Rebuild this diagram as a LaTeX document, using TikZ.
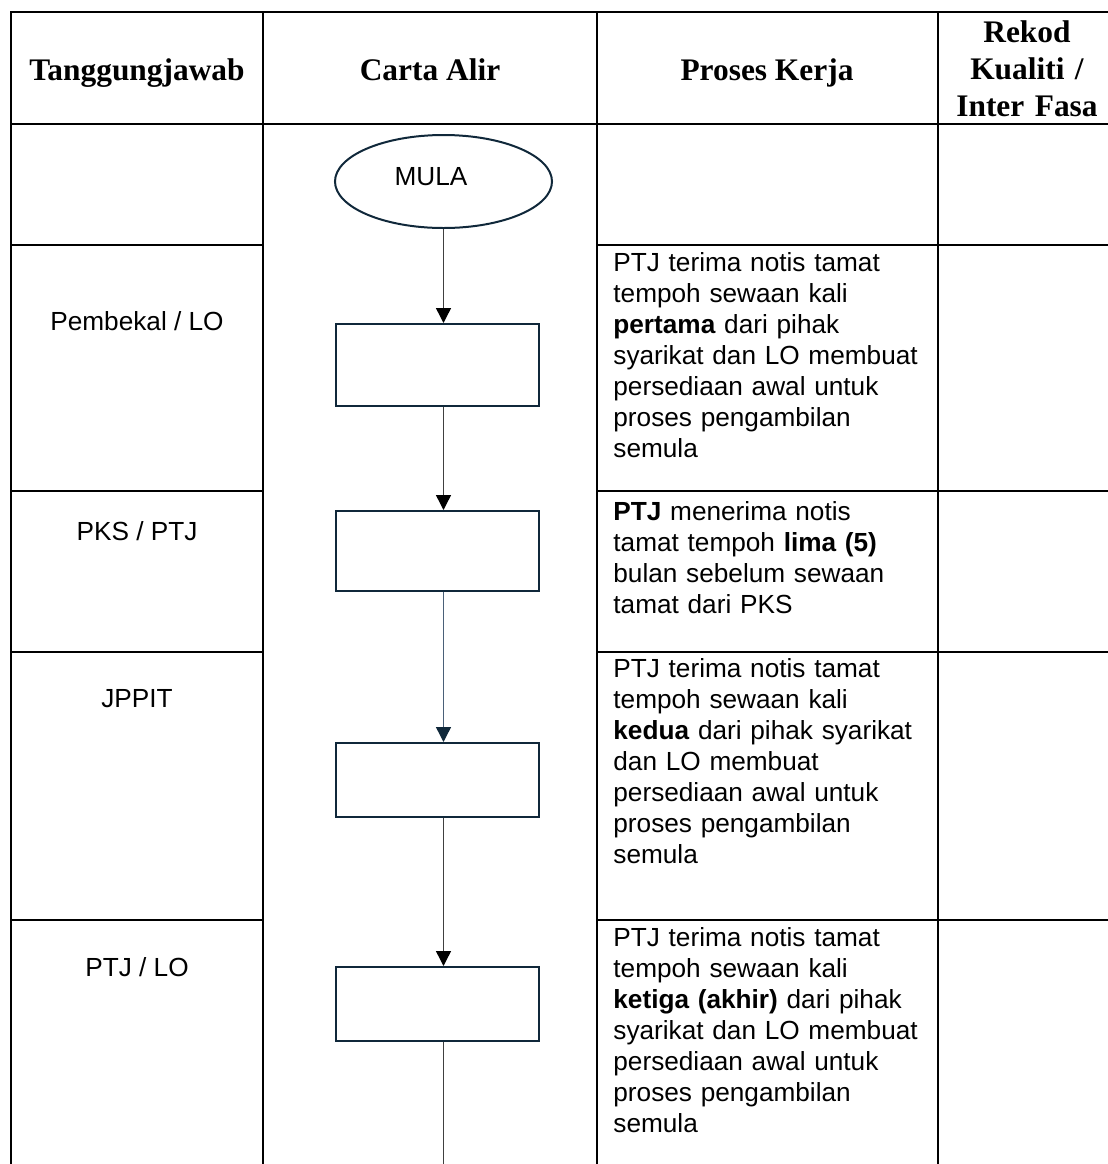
\documentclass[tikz,border=0pt]{standalone}
\usepackage{fontspec}
\setmainfont{Liberation Sans}
\newfontfamily\headfont{Liberation Serif}
\usepackage{tikz}
\usetikzlibrary{shapes.geometric, arrows.meta}

\definecolor{navyline}{HTML}{10283A}
\definecolor{arrowgray}{HTML}{404040}
\definecolor{arrowblue}{HTML}{4A6078}

\begin{document}
\begin{tikzpicture}[x=0.5pt, y=-0.5pt,
    rule/.style={line width=1.3pt, line cap=rect},
    headtext/.style={font=\headfont\bfseries\fontsize{15.7}{18.5}\selectfont, anchor=base, inner sep=0pt},
    roletext/.style={font=\fontsize{13.1}{15.5}\selectfont, anchor=base, inner sep=0pt},
    worktext/.style={font=\fontsize{13.1}{15.5}\selectfont, text width=165pt, align=left, anchor=base west, inner sep=0pt},
    terminal/.style={ellipse, draw=navyline, line width=1pt, minimum width=108.5pt, minimum height=46.5pt, inner sep=0pt},
    stepbox/.style={rectangle, draw=navyline, line width=1pt, minimum width=101.5pt, inner sep=0pt},
    flow/.style={draw=arrowgray, line width=0.7pt, -{Triangle[width=7.5pt,length=7.5pt,color=black]}},
    flowline/.style={draw=arrowgray, line width=0.7pt}]
  \useasboundingbox (0,0) rectangle (1108,1164);

  % table rules
  \draw[rule] (11,12) -- (1108,12);
  \draw[rule] (11,124) -- (1108,124);
  \foreach \x in {11,263,597,938}
    \draw[rule] (\x,12) -- (\x,1164);
  \foreach \y in {245,491,652,920} {
    \draw[rule] (11,\y) -- (263,\y);
    \draw[rule] (597,\y) -- (1108,\y);
  }

  % header
  \node[headtext] (hresp) at (137,80) {Tanggungjawab};
  \node[headtext] (hflow) at (430,80) {Carta Alir};
  \node[headtext] (hwork) at (767,80) {Proses Kerja};
  \node[headtext, text width=80pt, align=center] (hrec) at (1027,42) {Rekod\\Kualiti /\\Inter Fasa};

  % responsibility column
  \node[roletext] (role1) at (137,330) {Pembekal / LO};
  \node[roletext] (role2) at (137,540) {PKS / PTJ};
  \node[roletext] (role3) at (137,707) {JPPIT};
  \node[roletext] (role4) at (137,976) {PTJ / LO};

  % flow chart
  \node[terminal] (mula) at (443.5,181.5) {};
  \node[roletext] (mulatext) at (431,185) {MULA};
  \node[stepbox, minimum height=41pt] (box1) at (437.5,365) {};
  \node[stepbox, minimum height=40pt] (box2) at (437.5,551) {};
  \node[stepbox, minimum height=37pt] (box3) at (437.5,780) {};
  \node[stepbox, minimum height=37pt] (box4) at (437.5,1004) {};
  \coordinate (tail) at (443.5,1164);

  \draw[flow] (mula.south) -- (mula.south |- box1.north);
  \draw[flow] (box1.south -| mula.south) -- (box2.north -| mula.south);
  \draw[flow, draw=arrowblue, -{Triangle[width=7.5pt,length=7.5pt,color=navyline]}] (box2.south -| mula.south) -- (box3.north -| mula.south);
  \draw[flow] (box3.south -| mula.south) -- (box4.north -| mula.south);
  \draw[flowline] (box4.south -| mula.south) -- (tail);

  % work process column
  \node[worktext] (work1) at (613,271) {PTJ terima notis tamat\\tempoh sewaan kali\\\textbf{pertama} dari pihak\\syarikat dan LO membuat\\persediaan awal untuk\\proses pengambilan\\semula};
  \node[worktext] (work2) at (613,520) {\textbf{PTJ} menerima notis\\tamat tempoh \textbf{lima (5)}\\bulan sebelum sewaan\\tamat dari PKS};
  \node[worktext] (work3) at (613,677) {PTJ terima notis tamat\\tempoh sewaan kali\\\textbf{kedua} dari pihak syarikat\\dan LO membuat\\persediaan awal untuk\\proses pengambilan\\semula};
  \node[worktext] (work4) at (613,946) {PTJ terima notis tamat\\tempoh sewaan kali\\\textbf{ketiga (akhir)} dari pihak\\syarikat dan LO membuat\\persediaan awal untuk\\proses pengambilan\\semula};
\end{tikzpicture}
\end{document}
